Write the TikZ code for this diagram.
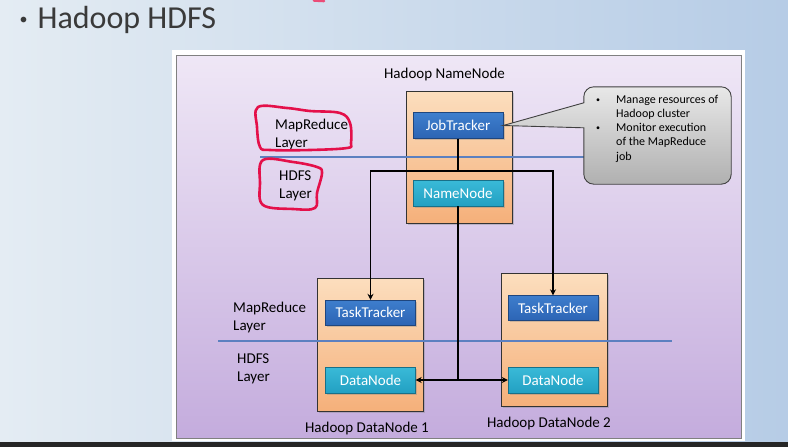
\documentclass[tikz,border=0pt]{standalone}
\usepackage{fontspec}
\setmainfont{Carlito}
\usetikzlibrary{shadows,arrows.meta}

\definecolor{slideleft}{RGB}{228,236,243}
\definecolor{slideright}{RGB}{182,204,230}
\definecolor{paneltop}{RGB}{239,231,246}
\definecolor{panelbottom}{RGB}{196,172,221}
\definecolor{peachtop}{RGB}{252,222,190}
\definecolor{peachbottom}{RGB}{245,176,122}
\definecolor{jobblue}{RGB}{44,100,180}
\definecolor{jobbluetop}{RGB}{62,126,205}
\definecolor{nodeteal}{RGB}{34,160,194}
\definecolor{nodetealtop}{RGB}{58,186,216}
\definecolor{layerblue}{RGB}{92,128,192}
\definecolor{inkred}{RGB}{228,16,74}
\definecolor{titlegray}{RGB}{58,58,58}

\newcommand{\notedot}{\makebox[20pt][l]{\raisebox{1pt}{\fontsize{8}{8}\selectfont •}}}

\begin{document}
\begin{tikzpicture}[x = 1pt, y = -1pt,
  machine/.style = {draw = black!80, line width = 0.8pt, top color = peachtop, bottom color = peachbottom, minimum width = 106pt, inner sep = 0pt, drop shadow = {opacity = 0.35, shadow xshift = 1.5pt, shadow yshift = -1.5pt}},
  tracker/.style = {draw = jobblue!70!black, top color = jobbluetop, bottom color = jobblue, text = white, minimum width = 90pt, minimum height = 26pt, inner sep = 0pt, font = \fontsize{15}{18}\selectfont, drop shadow = {opacity = 0.35, shadow xshift = 1.5pt, shadow yshift = -1.5pt}},
  store/.style = {tracker, draw = nodeteal!70!black, top color = nodetealtop, bottom color = nodeteal},
  layertext/.style = {align = left, anchor = west, inner sep = 0pt, font = \fontsize{15}{18}\selectfont},
  boxlabel/.style = {inner sep = 0pt, font = \fontsize{15}{18}\selectfont},
  notebody/.style = {draw = black!75, line width = 0.9pt, top color = gray!18, bottom color = gray!62},
  notetext/.style = {anchor = west, align = left, inner sep = 0pt, font = \fontsize{12}{14.25}\selectfont},
  link/.style = {line width = 1.5pt, >= {Stealth[length = 6pt, width = 6pt]}},
  divider/.style = {layerblue, line width = 1.2pt},
  inkloop/.style = {inkred, line width = 2.6pt, line cap = round, line join = round}]
\useasboundingbox (0, 0) rectangle (788, 447);
% slide
\fill [left color = slideleft, right color = slideright] (0, 0) rectangle (788, 447);
\fill [black!85] (0, 442) rectangle (788, 447);
\node [anchor = base west, text = titlegray, inner sep = 0pt, font = \fontsize{32}{38}\selectfont] (title) at (19.5, 28) {\raisebox{4pt}{\fontsize{16}{16}\selectfont •}\hspace{10pt}Hadoop HDFS};
\fill [white] (172, 50) rectangle (745, 441);
\draw [gray, line width = 0.8pt, top color = paneltop, bottom color = panelbottom] (176, 55) rectangle (741, 438);
% machines
\node [machine, minimum height = 132pt] (master) at (459, 157) {};
\node [machine, minimum height = 133pt] (slaveA) at (370, 344.5) {};
\node [machine, minimum height = 133pt] (slaveB) at (554, 339.5) {};
\node [tracker] (jt) at (458, 125.5) {JobTracker};
\node [store] (nn) at (458, 193) {NameNode};
\node [tracker, minimum height = 25pt] (ttA) at (370.5, 312.5) {TaskTracker};
\node [tracker, minimum height = 25pt] (ttB) at (553, 308) {TaskTracker};
\node [store] (dnA) at (370.5, 380) {DataNode};
\node [store] (dnB) at (553, 380) {DataNode};
\node [boxlabel] (masterlabel) at (444.5, 75) {Hadoop NameNode};
\node [boxlabel] (slaveAlabel) at (367, 428) {Hadoop DataNode 1};
\node [boxlabel] (slaveBlabel) at (549, 423) {Hadoop DataNode 2};
% layers
\node [layertext] (mrtop) at (275, 134) {MapReduce\\Layer};
\node [layertext] (hdfstop) at (279, 186) {HDFS\\Layer};
\node [layertext] (mrlow) at (233, 317.5) {MapReduce\\Layer};
\node [layertext] (hdfslow) at (237, 369) {HDFS\\Layer};
\draw [divider] (260, 157) -- (600, 157);
\draw [divider] (218, 341) -- (672, 341);
% connectors
\coordinate (fork) at (458, 171);
\draw [link] (jt.south) -- (fork);
\draw [link, ->] (fork) -| (ttA.north);
\draw [link, ->] (fork) -| (ttB.north);
\draw [link] (nn.south) -- (nn.south |- dnA.east);
\draw [link, <->] (dnA.east) -- (dnB.west);
% callout
\path node [minimum width = 147pt, minimum height = 97pt] (note) at (657.5, 135.5) {};
\draw [notebody] (jt.east) -- ([yshift = -16pt]note.north west) [rounded corners = 10pt] -- (note.north west) -- (note.north east) -- (note.south east) -- (note.south west) [sharp corners] -- ([yshift = -41pt]note.north west) -- cycle;
\node [notetext] (notetext) at (596, 128.5) {\notedot Manage resources of\\\hspace*{20pt}Hadoop cluster\\\notedot Monitor execution\\\hspace*{20pt}of the MapReduce\\\hspace*{20pt}job};
% red marks
\draw [inkloop] plot [smooth cycle, tension = 0.6] coordinates {(258, 107) (287, 108) (310, 111) (340, 113) (350, 123) (351, 143) (347, 148) (310, 150) (270, 150) (260, 147) (257, 127)};
\draw [inkloop] plot [smooth cycle, tension = 0.6] coordinates {(263, 160) (293, 162) (317, 167) (322, 173) (317, 193) (315, 208) (293, 209) (263, 205) (260, 183)};
\draw [inkloop, inkred!75] (314, 0.5) -- (324, 1);
\end{tikzpicture}
\end{document}
